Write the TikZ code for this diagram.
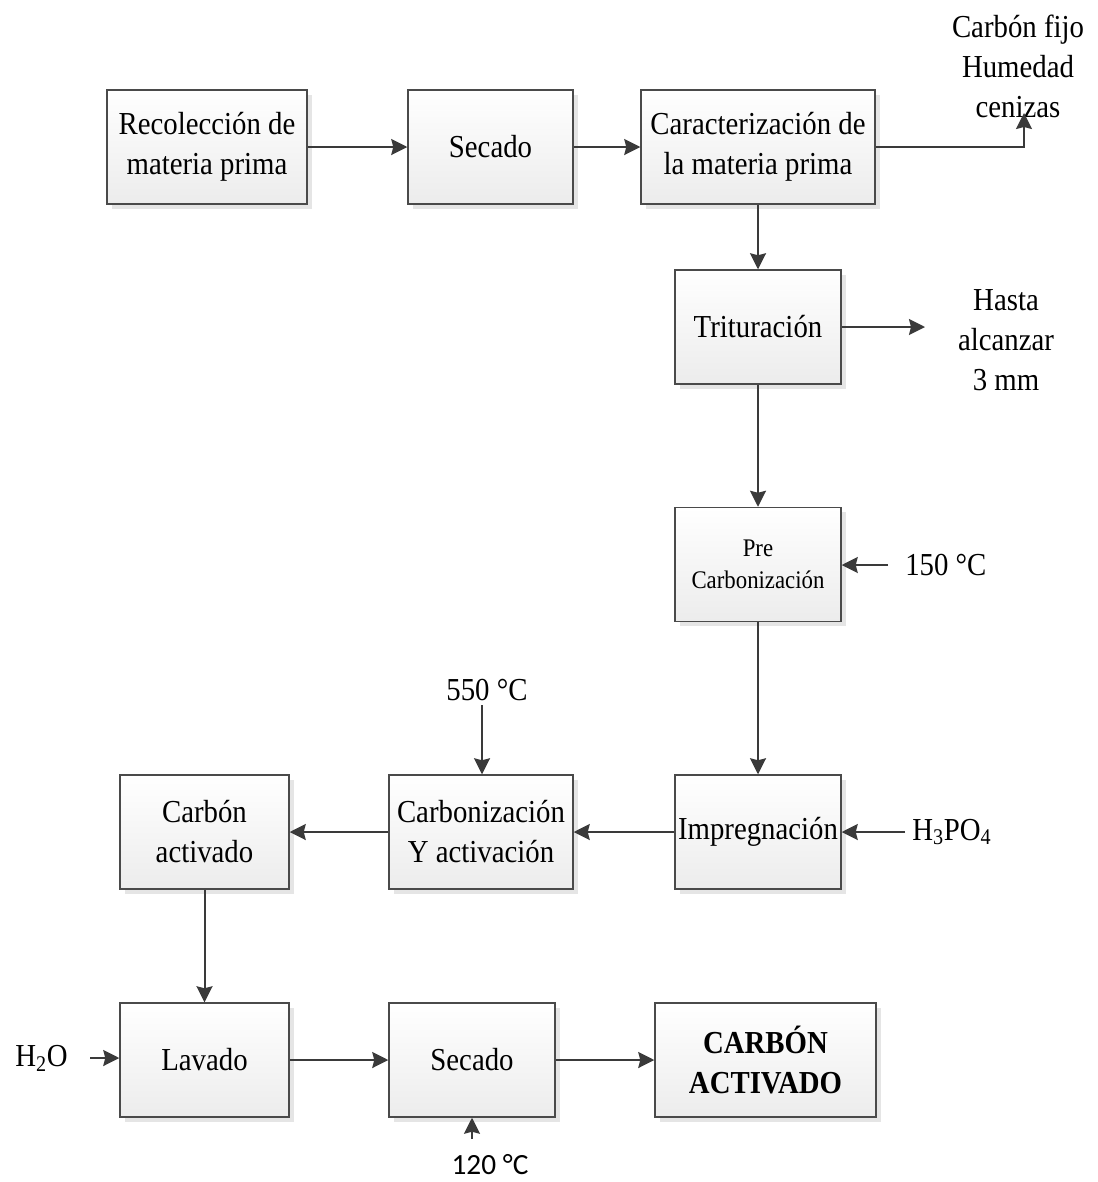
\documentclass[tikz,border=0pt]{standalone}
\usepackage{fontspec}
\setmainfont{Liberation Serif}[FakeStretch=0.9]
\newfontfamily\calfont{Carlito}
\usetikzlibrary{arrows.meta,shadows}
\definecolor{edge}{HTML}{4A4A4A}
\definecolor{arrowc}{HTML}{3A3A3A}
\definecolor{fillbot}{HTML}{ECECEC}
\begin{document}
\begin{tikzpicture}[x={(0.75pt,0)},y={(0,-0.75pt)},
  stepbox/.style={draw=edge,line width=1.1pt,top color=white,bottom color=fillbot,
    minimum height=85.5pt,align=center,inner sep=2pt,
    drop shadow={shadow xshift=3.5pt,shadow yshift=-3.5pt,fill=black!10,opacity=1},
    font=\fontsize{24}{30}\selectfont},
  lbl/.style={align=center,inner sep=0pt,font=\fontsize{24}{30}\selectfont},
  flow/.style={draw=arrowc,line width=1.5pt,-{Stealth[length=12pt,width=12pt,inset=1.5pt]}}]
\useasboundingbox (0,0) rectangle (1097,1182);
\fill[white] (0,0) rectangle (1097,1182);

% process boxes
\node[stepbox,minimum width=150pt] (rec) at (207,147) {Recolección de\\materia prima};
\node[stepbox,minimum width=123.75pt] (sec) at (490.5,147) {Secado};
\node[stepbox,minimum width=175.5pt] (car) at (758,147) {Caracterización de\\la materia prima};
\node[stepbox,minimum width=124.5pt] (tri) at (758,327) {Trituración};
\node[stepbox,minimum width=124.5pt,font=\fontsize{19}{24}\selectfont] (pre) at (758,564.5) {Pre\\Carbonización};
\node[stepbox,minimum width=124.5pt] (imp) at (758,832) {Impregnación};
\node[stepbox,minimum width=138pt] (cya) at (481,832) {Carbonización\\Y activación};
\node[stepbox,minimum width=126.75pt] (cac) at (204.5,832) {Carbón\\activado};
\node[stepbox,minimum width=126.75pt] (lav) at (204.5,1060) {Lavado};
\node[stepbox,minimum width=124.5pt] (se2) at (472,1060) {Secado};
\node[stepbox,minimum width=165.75pt,font=\fontsize{24}{30}\selectfont\bfseries] (fin) at (765.5,1060) {CARBÓN\\ACTIVADO};

% side labels
\node[lbl] (prop) at (1018,66) {Carbón fijo\\Humedad\\cenizas};
\node[lbl] (has) at (1006,340) {Hasta\\alcanzar\\3 mm};
\node[lbl,anchor=west] (t150) at (905,565) {150 °C};
\node[lbl,anchor=west] (acid) at (912,832) {H\textsubscript{3}PO\textsubscript{4}};
\node[lbl] (t550) at (487,690) {550 °C};
\node[lbl,anchor=east] (agua) at (68,1058) {H\textsubscript{2}O};
\node[lbl,font=\calfont\fontsize{22}{26}\selectfont] (t120) at (490,1165) {120 °C};

\coordinate (kink) at (1024,147);
\coordinate (ptop) at (1024,113);
\coordinate (hs) at (925,327);
\coordinate (s150) at (888,565);
\coordinate (sacid) at (905,832);
\coordinate (s550) at (482,705);
\coordinate (sagua) at (90,1058);
\coordinate (s120) at (472,1139);

% connectors
\draw[flow] (rec) -- (sec);
\draw[flow] (sec) -- (car);
\draw[flow] (car.east) -- (kink) -- (ptop);
\draw[flow] (car) -- (tri);
\draw[flow] (tri.east) -- (hs);
\draw[flow] (tri) -- (pre);
\draw[flow] (s150) -- (pre.east |- s150);
\draw[flow] (pre) -- (imp);
\draw[flow] (sacid) -- (imp.east);
\draw[flow] (imp) -- (cya);
\draw[flow] (s550) -- (s550 |- cya.north);
\draw[flow] (cya) -- (cac);
\draw[flow] (cac) -- (lav);
\draw[flow] (sagua) -- (sagua -| lav.west);
\draw[flow] (lav) -- (se2);
\draw[flow] (se2) -- (fin);
\draw[flow] (s120) -- (s120 |- se2.south);
\end{tikzpicture}
\end{document}
